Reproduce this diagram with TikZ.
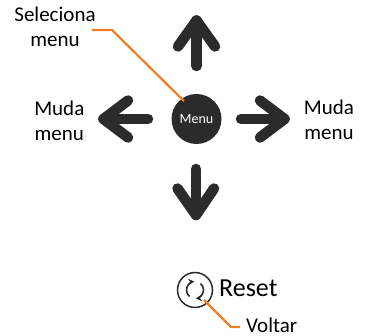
\documentclass[tikz,border=0pt]{standalone}
\usepackage{fontspec}
\setmainfont{Carlito}
\usetikzlibrary{arrows.meta}
\definecolor{dk}{HTML}{2B2B2B}
\definecolor{org}{HTML}{EE7F22}
\tikzset{
  arrowline/.style={draw=dk,line width=10.5pt,line cap=round,line join=round},
  leader/.style={draw=org,line width=2.2pt},
  lbl/.style={font=\fontsize{21}{24.5}\selectfont,text=black,align=center,inner sep=0pt},
  cyc/.style={draw=dk,line width=1.6pt,-{Stealth[length=6pt,width=6.5pt]}},
}
\begin{document}
\begin{tikzpicture}[x=1pt,y=-1pt]
\useasboundingbox (0,0) rectangle (367,336);
% up
\coordinate (ut) at (196.5,20.5);
\coordinate (ub) at (196.5,66);
\draw[arrowline] (ub) -- (ut);
\draw[arrowline] (178,46.5) -- (ut) -- (215,46.5);
% down
\coordinate (dt) at (196,215);
\coordinate (db) at (196,169);
\draw[arrowline] (db) -- (dt);
\draw[arrowline] (177.5,188.5) -- (dt) -- (214,188.5);
% left
\coordinate (lt) at (103.5,119);
\coordinate (lb) at (148,119);
\draw[arrowline] (lb) -- (lt);
\draw[arrowline] (128,100.5) -- (lt) -- (128,137.5);
% right
\coordinate (rt) at (284.5,119);
\coordinate (rb) at (241,119);
\draw[arrowline] (rb) -- (rt);
\draw[arrowline] (260,100.5) -- (rt) -- (260,137.5);
% menu
\node[circle,fill=dk,minimum size=50pt,inner sep=0pt,text=white,font=\fontsize{14}{16}\selectfont] (menu) at (196.5,119) {Menu};
% labels
\node[lbl,text width=90pt] (sel) at (55,27) {Seleciona\\menu};
\node[lbl,text width=70pt] (ml) at (59.3,120.7) {Muda\\menu};
\node[lbl,text width=70pt] (mr) at (329,119.7) {Muda\\menu};
% leader to menu
\coordinate (s0) at (92,30);
\coordinate (s1) at (112,30);
\draw[leader] (s0) -- (s1) -- (184,101);
% reset
\node[circle,draw=dk,line width=1.5pt,minimum size=35pt,inner sep=0pt] (rs) at (195,290) {};
\draw[cyc] ([shift={(130:8.5)}]rs.center) arc[start angle=130,end angle=265,radius=8.5];
\draw[cyc] ([shift={(-50:8.5)}]rs.center) arc[start angle=-50,end angle=85,radius=8.5];
\node[anchor=base west,inner sep=0pt,font=\fontsize{26}{30}\selectfont] (rt2) at (219,297) {Reset};
\node[anchor=base west,inner sep=0pt,font=\fontsize{21}{25}\selectfont] (vt) at (246,332.5) {Voltar};
\coordinate (v1) at (231,327);
\coordinate (v0) at (204,300);
\draw[leader] (v0) -- (v1) -- (240,327);
\end{tikzpicture}
\end{document}
